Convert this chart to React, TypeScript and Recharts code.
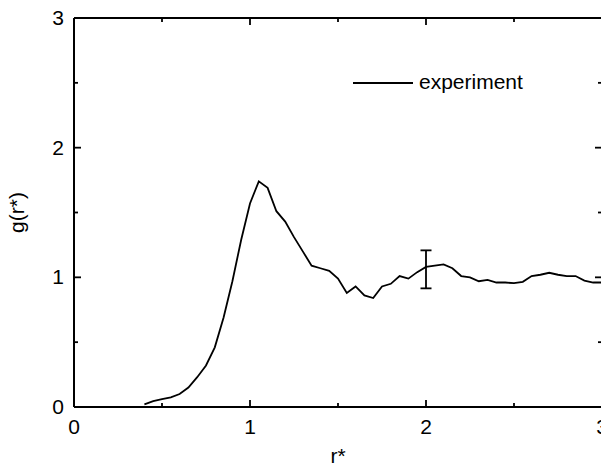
import React from 'react';
import { LineChart, Line, XAxis, YAxis, Legend, ErrorBar } from 'recharts';

// r* values (reduced distance)
const rValues = [
  0.4, 0.45, 0.5, 0.55, 0.6, 0.65, 0.7, 0.75, 0.8, 0.85, 0.9, 0.95,
  1.0, 1.05, 1.1, 1.15, 1.2, 1.25, 1.3, 1.35, 1.4, 1.45, 1.5, 1.55,
  1.6, 1.65, 1.7, 1.75, 1.8, 1.85, 1.9, 1.95, 2.0, 2.05, 2.1, 2.15,
  2.2, 2.25, 2.3, 2.35, 2.4, 2.45, 2.5, 2.55, 2.6, 2.65, 2.7, 2.75,
  2.8, 2.85, 2.9, 2.95, 3.0,
];

// g(r*) experiment
const gValues = [
  0.02, 0.045, 0.06, 0.075, 0.1, 0.15, 0.23, 0.32, 0.46, 0.69, 0.97, 1.29,
  1.57, 1.74, 1.69, 1.51, 1.43, 1.31, 1.2, 1.09, 1.07, 1.05, 0.99, 0.88,
  0.93, 0.86, 0.84, 0.93, 0.95, 1.01, 0.99, 1.04, 1.08, 1.09, 1.1, 1.07,
  1.01, 1.0, 0.97, 0.98, 0.96, 0.96, 0.955, 0.965, 1.01, 1.02, 1.035, 1.02,
  1.01, 1.01, 0.975, 0.96, 0.96,
];

// error bar at r* = 2 : [below, above]
const errorAt = 2.0;
const errorRange: [number, number] = [0.165, 0.128];

const axisTicks = [0, 0.5, 1, 1.5, 2, 2.5, 3];

const FONT = '"Liberation Sans", Arial, sans-serif';
const MAJOR = 7;
const MINOR = 4;
const TICK_W = 1.8;
const AXIS_LINE = { stroke: '#000', strokeWidth: 2 };

const data = rValues.map((r, i) => ({
  r,
  g: gValues[i],
  err: r === errorAt ? errorRange : undefined,
}));

const isMajor = (v: number) => Number.isInteger(v);

const BottomTick = ({ x, y, payload }: any) => (
  <g>
    <line x1={x} x2={x} y1={y} y2={y - (isMajor(payload.value) ? MAJOR : MINOR)} stroke="#000" strokeWidth={TICK_W} />
    {isMajor(payload.value) && (
      <text x={x} y={y + 27} textAnchor="middle" fontSize={21} fontFamily={FONT} fill="#000">
        {payload.value}
      </text>
    )}
  </g>
);

const TopTick = ({ x, y, payload }: any) => (
  <line x1={x} x2={x} y1={y} y2={y + (isMajor(payload.value) ? MAJOR : MINOR)} stroke="#000" strokeWidth={TICK_W} />
);

const LeftTick = ({ x, y, payload }: any) => (
  <g>
    <line x1={x} x2={x + (isMajor(payload.value) ? MAJOR : MINOR)} y1={y} y2={y} stroke="#000" strokeWidth={TICK_W} />
    {isMajor(payload.value) && (
      <text x={x - 10} y={y + 7} textAnchor="end" fontSize={21} fontFamily={FONT} fill="#000">
        {payload.value}
      </text>
    )}
  </g>
);

const RightTick = ({ x, y, payload }: any) => (
  <line x1={x} x2={x - (isMajor(payload.value) ? MAJOR : MINOR)} y1={y} y2={y} stroke="#000" strokeWidth={TICK_W} />
);

const LegendContent = () => (
  <svg width={200} height={30}>
    <line x1={0} x2={60} y1={15} y2={15} stroke="#000" strokeWidth={1.8} />
    <text x={66} y={20.5} fontSize={21} fontFamily={FONT} fill="#000">
      experiment
    </text>
  </svg>
);

const App: React.FC = () => {
  return (
    <div style={{ width: 609, height: 466, margin: '-8px 0 0 -8px', position: 'relative' }}>
      <LineChart width={609} height={466} data={data} margin={{ top: 17, right: 6, bottom: 0, left: 0 }}>
        <XAxis
          dataKey="r"
          type="number"
          domain={[0, 3]}
          ticks={axisTicks}
          allowDataOverflow
          height={59}
          tickSize={0}
          tickMargin={0}
          tick={BottomTick}
          axisLine={AXIS_LINE}
          interval={0}
          label={({ viewBox }: any) => (
            <text x={viewBox.x + viewBox.width / 2} y={viewBox.y + 56} textAnchor="middle" fontSize={21} fontFamily={FONT} fill="#000">
              r*
            </text>
          )}
        />
        <XAxis
          xAxisId="top"
          dataKey="r"
          orientation="top"
          type="number"
          domain={[0, 3]}
          ticks={axisTicks}
          allowDataOverflow
          height={1}
          tickSize={0}
          tickMargin={0}
          tick={TopTick}
          axisLine={AXIS_LINE}
          interval={0}
        />
        <YAxis
          type="number"
          domain={[0, 3]}
          ticks={axisTicks}
          allowDataOverflow
          width={74}
          tickSize={0}
          tickMargin={0}
          tick={LeftTick}
          axisLine={AXIS_LINE}
          interval={0}
          label={({ viewBox }: any) => {
            const cx = 24;
            const cy = viewBox.y + viewBox.height / 2;
            return (
              <text x={cx} y={cy} transform={`rotate(-90 ${cx} ${cy})`} textAnchor="middle" fontSize={21} fontFamily={FONT} fill="#000">
                g(r*)
              </text>
            );
          }}
        />
        <YAxis
          yAxisId="right"
          orientation="right"
          type="number"
          domain={[0, 3]}
          ticks={axisTicks}
          allowDataOverflow
          width={1}
          tickSize={0}
          tickMargin={0}
          tick={RightTick}
          axisLine={AXIS_LINE}
          interval={0}
        />
        <Legend
          layout="horizontal"
          verticalAlign="middle"
          align="center"
          content={LegendContent}
          wrapperStyle={{ position: 'absolute', left: 353, top: 68, width: 200, height: 30 }}
        />
        {/* invisible copy so the frame axes (top/right) get a domain */}
        <Line
          xAxisId="top"
          yAxisId="right"
          dataKey="g"
          stroke="none"
          dot={false}
          legendType="none"
          isAnimationActive={false}
        />
        <Line
          type="linear"
          dataKey="g"
          name="experiment"
          stroke="#000"
          strokeWidth={1.8}
          dot={false}
          isAnimationActive={false}
        >
          <ErrorBar dataKey="err" direction="y" width={5.5} stroke="#000" strokeWidth={1.8} isAnimationActive={false} />
        </Line>
      </LineChart>
    </div>
  );
};

export default App;
